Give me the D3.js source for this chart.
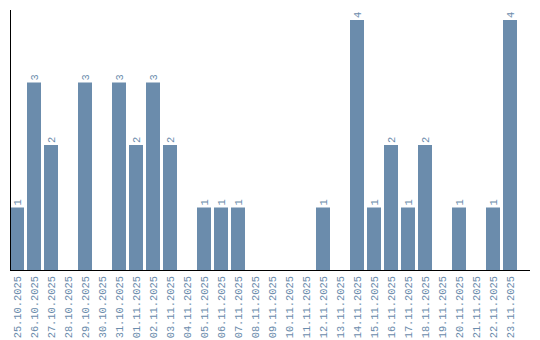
<!DOCTYPE html>
<html>
<head>
<meta charset="utf-8">
<script src="https://cdn.jsdelivr.net/npm/d3@7"></script>
<style>
	body { margin: 0; background: #fff; }
	text { font-family: "Liberation Mono", "Courier New", monospace; font-size: 10.4px; fill: #6b8cac; }
</style>
</head>
<body>
<script>
const w = 540,
	h = 340;

const dates = ['25.10.2025', '26.10.2025', '27.10.2025', '28.10.2025', '29.10.2025', '30.10.2025',
	'31.10.2025', '01.11.2025', '02.11.2025', '03.11.2025', '04.11.2025', '05.11.2025',
	'06.11.2025', '07.11.2025', '08.11.2025', '09.11.2025', '10.11.2025', '11.11.2025',
	'12.11.2025', '13.11.2025', '14.11.2025', '15.11.2025', '16.11.2025', '17.11.2025',
	'18.11.2025', '19.11.2025', '20.11.2025', '21.11.2025', '22.11.2025', '23.11.2025'];
const counts = [1, 3, 2, 0, 3, 0, 3, 2, 3, 2, 0, 1, 1, 1, 0, 0, 0, 0, 1, 0, 4, 1, 2, 1, 2, 0, 1, 0, 1, 4];

const barColor = '#6b8cac';

const svg = d3.select('body')
	.append('svg')
	.attr('width', w)
	.attr('height', h);

const x = d3.scaleBand()
	.domain(dates)
	.range([10, 517])
	.paddingInner(3 / 17)
	.paddingOuter(0);

const y = d3.scaleLinear()
	.domain([0, 4])
	.range([270, 20]);

//bars, skip zero days
const bars = svg.selectAll('g.bar')
	.data(dates.map((d, i) => ({date: d, value: counts[i]})).filter((d) => d.value > 0))
	.enter()
	.append('g')
	.attr('class', 'bar');

bars.append('rect')
	.attr('x', (d) => x(d.date))
	.attr('y', (d) => y(d.value))
	.attr('width', x.bandwidth())
	.attr('height', (d) => y(0) - y(d.value))
	.attr('fill', barColor);

bars.append('text')
	.attr('transform', (d) => `translate(${x(d.date) + x.bandwidth() / 2 + 3.5},${y(d.value) - 2}) rotate(-90)`)
	.text((d) => d.value);

//x axis
const xAxis = svg.append('g')
	.attr('transform', `translate(0,${y(0)})`)
	.call(d3.axisBottom(x).tickSize(0).tickPadding(0));
xAxis.select('.domain').remove();
xAxis.selectAll('text')
	.attr('y', 0)
	.attr('dy', 0)
	.attr('transform', 'translate(3.5,6) rotate(-90)')
	.style('text-anchor', 'end');

svg.append('line')
	.attr('x1', 10).attr('x2', 530)
	.attr('y1', 270.5).attr('y2', 270.5)
	.attr('stroke', '#000');

//y axis line only
svg.append('line')
	.attr('x1', 10.5).attr('x2', 10.5)
	.attr('y1', 10).attr('y2', 270)
	.attr('stroke', '#000');
</script>
</body>
</html>
